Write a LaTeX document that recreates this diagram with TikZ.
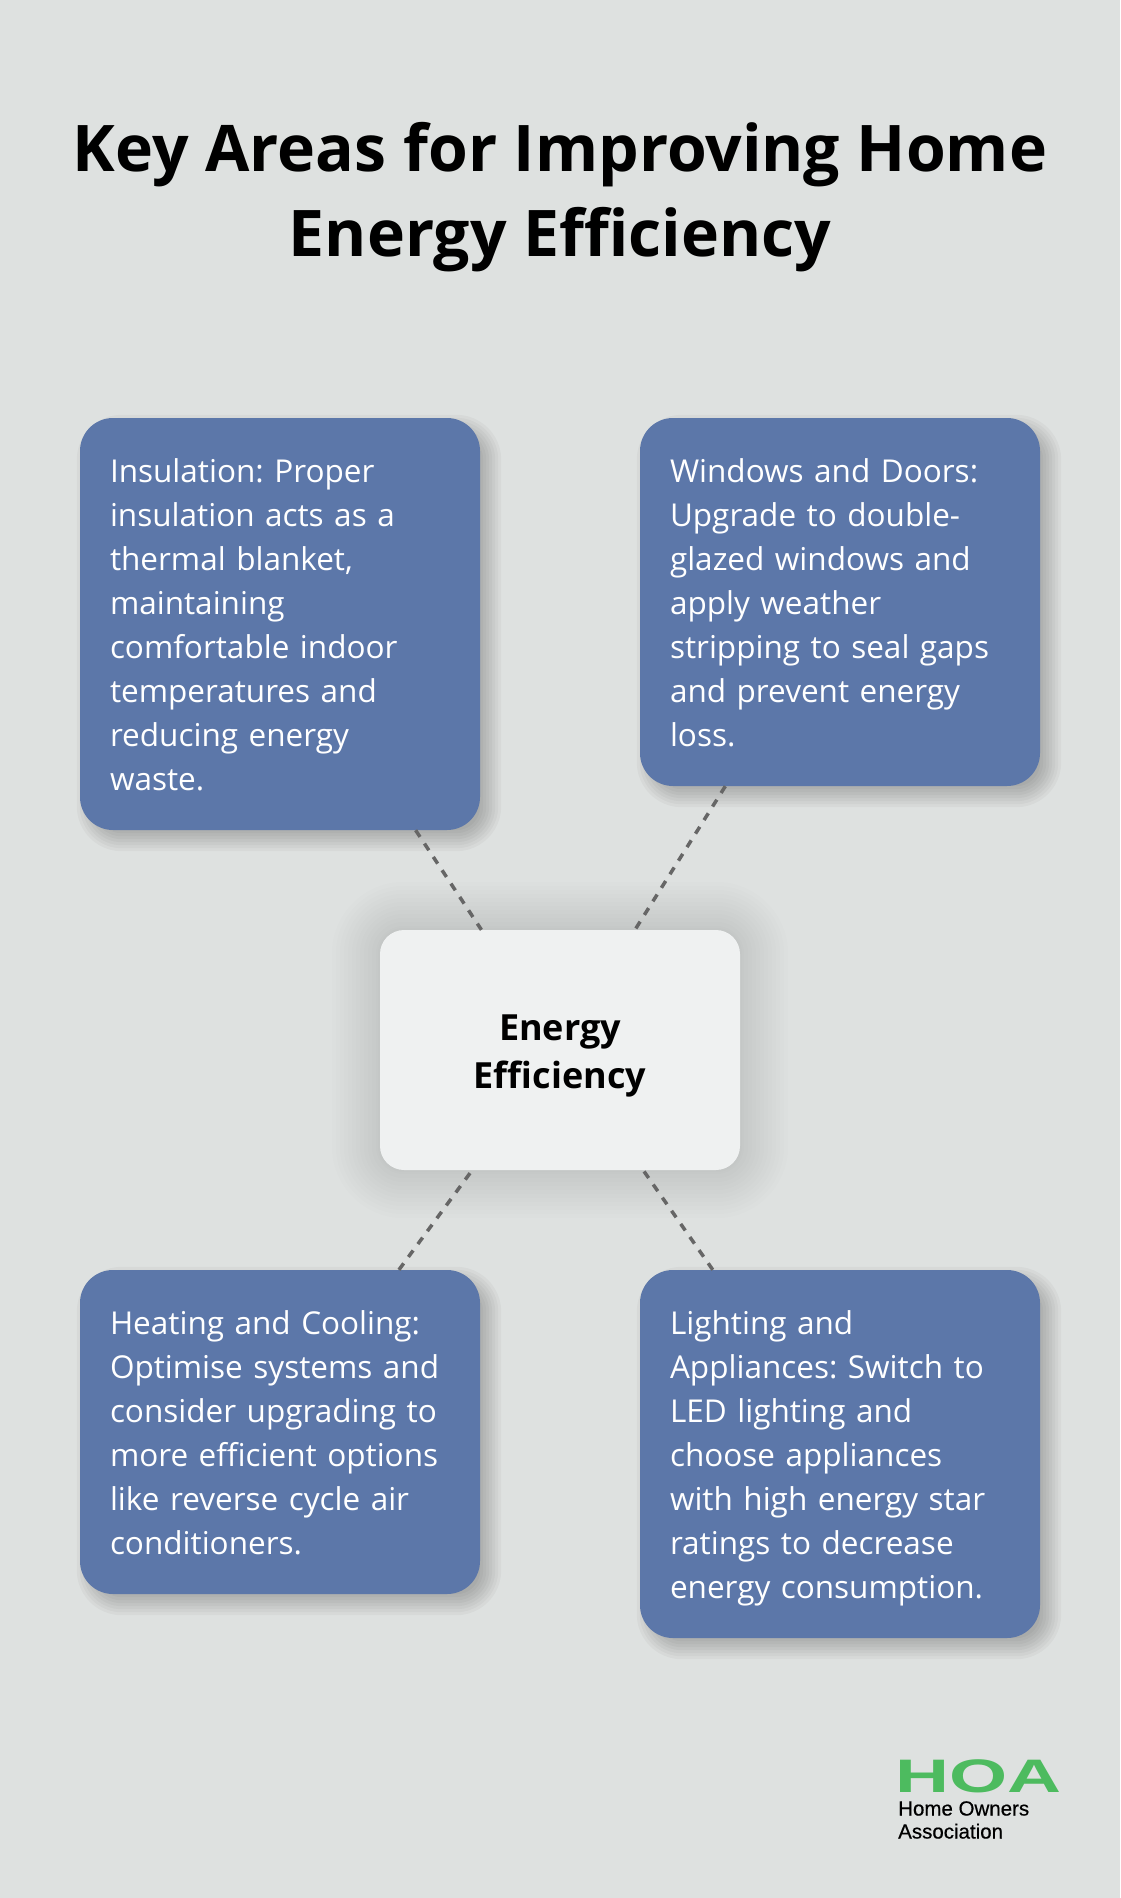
\documentclass[tikz,border=0pt]{standalone}
\usepackage{fontspec}
\setmainfont{Open Sans}
\newfontfamily\logofont{Liberation Sans}
\newfontfamily\ownersfont[FakeBold=0.5]{Liberation Sans}
\frenchspacing
\pgfdeclarelayer{shade}
\pgfsetlayers{shade,main}
\definecolor{pagegrey}{HTML}{DEE1E0}
\definecolor{cardblue}{HTML}{5C77A9}
\definecolor{hubwhite}{HTML}{EFF1F1}
\definecolor{linkgrey}{HTML}{666666}
\definecolor{logogreen}{HTML}{4DBB5F}
\tikzset{
    card/.style={fill=cardblue,text=white,rounded corners=33pt,minimum width=400pt,
        text width=340pt,inner xsep=30pt,inner ysep=0pt,align=left,
        font=\fontsize{31.5}{44}\selectfont,
        execute at begin node={\rule{0pt}{38.8pt}},execute at end node=\strut},
    hub/.style={fill=hubwhite,rounded corners=24pt,minimum width=360pt,minimum height=240pt,
        text width=340pt,inner xsep=10pt,inner ysep=0pt,
        align=center,font=\fontsize{36}{48}\selectfont\bfseries,
        execute at begin node={\rule{0pt}{37pt}}},
    link/.style={draw=linkgrey,line width=3.5pt,dash pattern=on 8pt off 8pt}
}
% soft shadow: node, x shift, y shift, corner radius, opacity of one step, steps
\newcommand{\softshade}[6]{
    \begin{pgfonlayer}{shade}
        \foreach \s in {#6} {
            \fill[black,opacity=#5,rounded corners=#4pt+\s pt]
                ([xshift=#2pt-\s pt,yshift=-#3pt-\s pt]#1.south west) rectangle
                ([xshift=#2pt+\s pt,yshift=-#3pt+\s pt]#1.north east);
        }
    \end{pgfonlayer}
}
\begin{document}
\begin{tikzpicture}[x=1pt,y=-1pt]
        \begin{pgfonlayer}{shade}
            \fill[pagegrey] (0,0) rectangle (1120,1898);
        \end{pgfonlayer}
        \useasboundingbox (0,0) rectangle (1120,1898);
        %% Title
        \node[align=center,font=\fontsize{64.3}{85}\selectfont\bfseries] (title) at (560,197) {Key Areas for Improving Home\\Energy Efficiency};
        %% Cards
        \node[card,minimum height=412pt] (insulation) at (280,624) {Insulation: Proper\\insulation acts as a\\thermal blanket,\\maintaining\\comfortable indoor\\temperatures and\\reducing energy\\waste.};
        \node[card,minimum height=368pt] (windows) at (840,602) {Windows and Doors:\\Upgrade to double-\\glazed windows and\\apply weather\\stripping to seal gaps\\and prevent energy\\loss.};
        \node[card,minimum height=324pt] (heating) at (280,1432) {Heating and Cooling:\\Optimise systems and\\consider upgrading to\\more efficient options\\like reverse cycle air\\conditioners.};
        \node[card,minimum height=368pt] (lighting) at (840,1454) {Lighting and\\Appliances: Switch to\\LED lighting and\\choose appliances\\with high energy star\\ratings to decrease\\energy consumption.};
        %% Centre
        \node[hub] (energy) at (560,1050) {Energy\\Efficiency};
        %% Shadows
        \softshade{insulation}{9}{9}{33}{0.03}{12,9,6,3,0,-3,-6,-9}
        \softshade{windows}{9}{9}{33}{0.03}{12,9,6,3,0,-3,-6,-9}
        \softshade{heating}{9}{9}{33}{0.03}{12,9,6,3,0,-3,-6,-9}
        \softshade{lighting}{9}{9}{33}{0.03}{12,9,6,3,0,-3,-6,-9}
        \softshade{energy}{0}{0}{24}{0.006}{48,44,40,36,32,28,24,20,16,12,8,4,2,0}
        %% Links
        \draw[link] (insulation) -- (energy);
        \draw[link] (windows) -- (energy);
        \draw[link] (heating) -- (energy);
        \draw[link] (lighting) -- (energy);
        %% Logo
        \node[anchor=south west,inner sep=0pt,text=logogreen,font=\logofont\fontsize{47}{47}\selectfont\bfseries] (hoa) at (895,1793) {\scalebox{1.59}[1]{HOA}};
        \node[anchor=north west,inner sep=0pt,align=left,font=\ownersfont\fontsize{20.5}{23}\selectfont] (owners) at (898,1801) {Home Owners\\Association};
    \end{tikzpicture}
\end{document}
